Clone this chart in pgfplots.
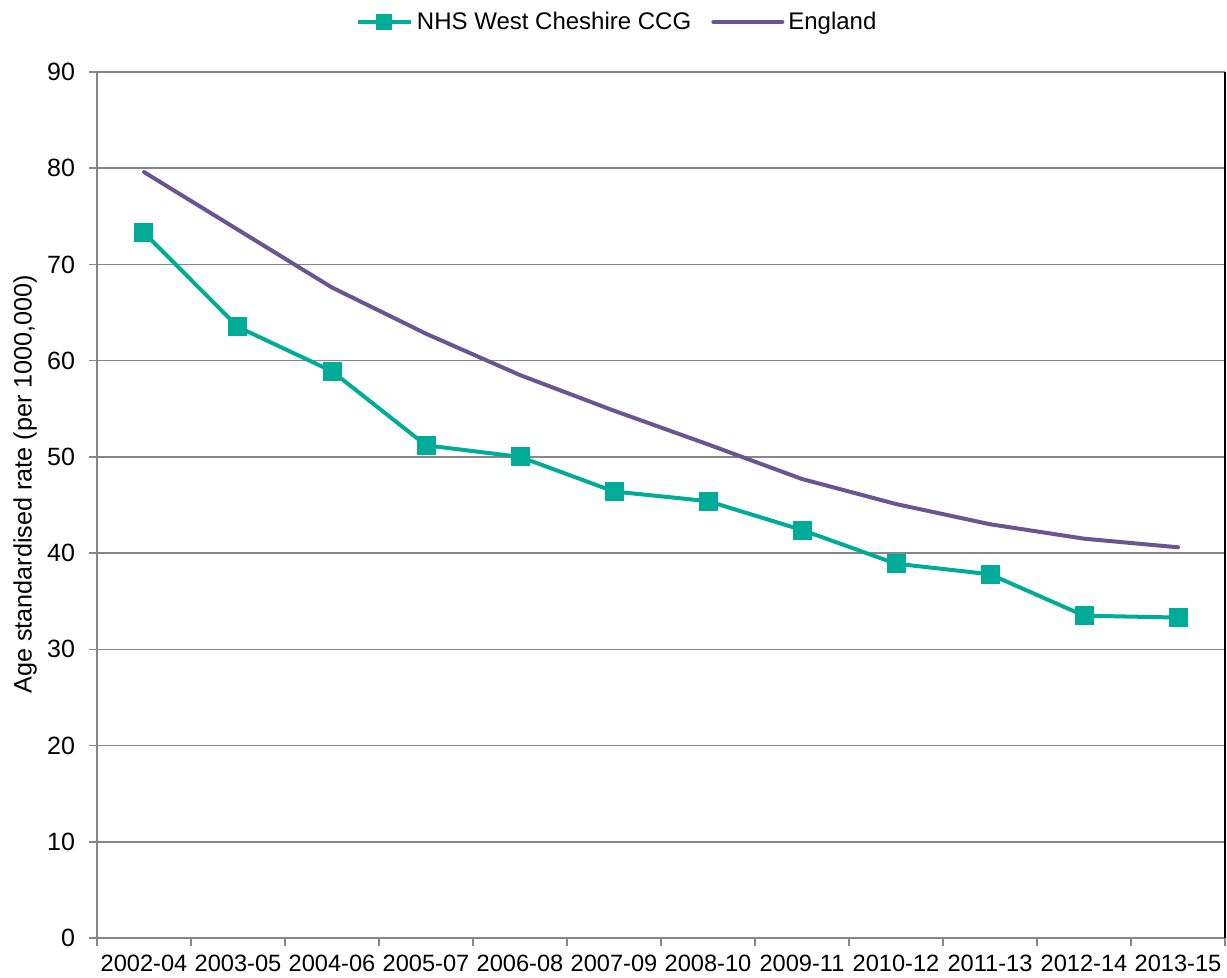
\documentclass[border=0pt]{standalone}
\usepackage{pgfplots}
\pgfplotsset{compat=1.18}
\usepackage{fontspec}
\setmainfont{Liberation Sans}
\definecolor{tealc}{RGB}{0,172,152}
\definecolor{purp}{RGB}{106,84,145}
\definecolor{gridg}{RGB}{134,134,134}
\begin{document}
\begin{tikzpicture}
\begin{axis}[name=ax,
  width=564pt, height=433pt, scale only axis,
  xmin=-0.5, xmax=11.5, ymin=0, ymax=90,
  xtick={-0.5,0.5,...,11.5},
  xticklabels={2002-04,2003-05,2004-06,2005-07,2006-08,2007-09,2008-10,2009-11,2010-12,2011-13,2012-14,2013-15},
  x tick label as interval,
  ytick={0,10,...,90},
  ymajorgrids, grid style={gridg, line width=0.8pt},
  axis x line*=bottom, axis y line*=left,
  axis line style={gridg, line width=1pt},
  tick align=outside, major tick length=4pt,
  tick style={gridg, line width=0.8pt},
  yticklabel style={font=\fontsize{12.5}{14}\selectfont, text=black, xshift=-3.5pt},
  xticklabel style={font=\fontsize{11.8}{13}\selectfont, text=black, yshift=-1pt},
  /pgf/number format/assume math mode=true,
  ylabel={Age standardised rate (per 1000,000)},
  ylabel style={font=\fontsize{12.6}{14}\selectfont, at={(axis description cs:-0.0638,0.524)}, anchor=center},
  legend columns=2,
  legend style={draw=none, fill=none, at={(axis description cs:0.462,1)}, anchor=center, yshift=25pt,
    font=\fontsize{12}{14}\selectfont,
    /tikz/every odd column/.append style={column sep=0pt},
    /tikz/every even column/.append style={column sep=8pt},
    nodes={inner xsep=2pt}},
  clip=false,
]
\addplot[tealc, line width=2pt, mark=square*, mark size=3.75pt, mark options={solid},
  legend image code/.code={\draw[mark repeat=2,mark phase=2, mark size=2.8pt, line width=2.4pt] plot coordinates {(0cm,0cm)(0.46cm,0cm)(0.92cm,0cm)};}] coordinates {
(0,73.3)(1,63.5)(2,58.9)(3,51.2)(4,50.0)(5,46.4)(6,45.4)(7,42.4)(8,38.9)(9,37.8)(10,33.5)(11,33.3)};
\addlegendentry{NHS West Cheshire CCG}
\addplot[purp, line width=2pt, line cap=round,
  legend image code/.code={\draw[line width=2.4pt] (0cm,0cm) -- (1.2cm,0cm);}] coordinates {
(0,79.6)(1,73.6)(2,67.6)(3,62.8)(4,58.5)(5,54.8)(6,51.3)(7,47.7)(8,45.1)(9,43.0)(10,41.5)(11,40.6)};
\addlegendentry{England}
\draw[black, line width=0.8pt] (axis description cs:1,0) -- (axis description cs:1,1);
\end{axis}
\pgfresetboundingbox
\path[use as bounding box] ([xshift=-48.5pt,yshift=-20pt]ax.south west) rectangle ([xshift=1pt,yshift=36pt]ax.north east);
\end{tikzpicture}
\end{document}
